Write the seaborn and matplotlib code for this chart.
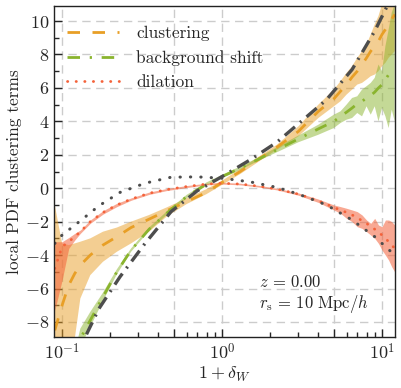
import numpy as np
import matplotlib
matplotlib.use("Agg")
import matplotlib.pyplot as plt
import matplotlib.ticker as mticker
import seaborn as sns

# simulation measurements (mean and band)
x_sim = [0.09, 0.1, 0.11, 0.12, 0.13, 0.15, 0.18, 0.22, 0.27, 0.35, 0.45, 0.6, 0.8,
         1.0, 1.3, 1.7, 2.2, 3.0, 4.0, 5.0, 5.5, 6.0, 6.5, 7.0, 7.5, 8.0, 8.5, 9.0,
         9.5, 10.0, 10.5, 11.0, 11.5, 12.0]

clus_mid = [-8.5, -7.0, -5.8, -5.1, -4.6, -4.0, -3.4, -2.9, -2.35, -1.85, -1.35, -0.8, -0.25,
            0.35, 1.0, 1.75, 2.45, 3.4, 4.6, 5.35, 5.8, 6.2, 6.65, 7.0, 7.4, 7.8, 8.2, 8.5,
            8.8, 9.2, 9.5, 9.8, 10.1, 10.4]
clus_lo = [-12, -12, -11, -9.0, -6.6, -5.2, -4.4, -3.8, -3.3, -2.6, -1.7, -0.95, -0.35,
           0.2, 0.85, 1.6, 2.3, 3.1, 4.2, 4.9, 5.2, 5.6, 5.9, 6.2, 6.3, 6.5, 6.7, 6.8,
           7.0, 7.3, 7.5, 7.8, 8.0, 8.2]
clus_hi = [-1.0, -3.3, -3.4, -3.3, -3.2, -3.0, -2.6, -2.35, -2.0, -1.6, -1.15, -0.6, -0.05,
           0.45, 1.15, 1.9, 2.6, 3.7, 5.0, 5.9, 6.4, 6.9, 7.3, 7.8, 8.2, 8.6, 9.2, 9.8,
           10.3, 11.0, 11.6, 12.0, 12.5, 13.0]

bg_mid = [-15, -13.5, -12, -10.5, -9.0, -7.9, -6.5, -5.0, -3.7, -2.45, -1.5, -0.5, 0.25,
          0.7, 1.2, 1.75, 2.3, 2.95, 3.55, 4.0, 4.3, 4.55, 4.8, 5.05, 5.2, 5.4, 5.55, 5.75,
          6.0, 6.2, 6.5, 6.8, 6.9, 7.0]
bg_lo = [-17, -15, -13, -11.2, -9.5, -8.3, -6.75, -5.15, -3.8, -2.55, -1.6, -0.6, 0.15,
         0.6, 1.1, 1.65, 2.15, 2.75, 3.2, 3.6, 3.9, 4.1, 4.2, 4.5, 4.3, 4.9, 4.4, 4.9,
         4.0, 4.8, 4.3, 3.6, 4.7, 4.0]
bg_hi = [-13, -12, -11, -9.8, -8.4, -7.4, -6.25, -4.85, -3.6, -2.35, -1.4, -0.4, 0.35,
         0.8, 1.3, 1.85, 2.45, 3.15, 3.8, 4.4, 4.6, 5.0, 5.4, 5.5, 5.9, 6.1, 6.3, 6.6,
         7.4, 7.0, 8.5, 9.5, 10.5, 11.0]

dil_mid = [-4.8, -3.5, -3.2, -2.9, -2.6, -2.0, -1.45, -1.0, -0.65, -0.3, -0.08, 0.1, 0.25,
           0.3, 0.25, 0.12, -0.05, -0.35, -0.75, -1.15, -1.3, -1.45, -1.6, -1.75, -1.95, -2.1,
           -2.3, -2.45, -2.65, -2.8, -3.0, -3.2, -3.4, -3.6]
dil_lo = [-7.3, -5.5, -3.6, -3.1, -2.7, -2.1, -1.55, -1.1, -0.72, -0.37, -0.14, 0.04, 0.2,
          0.25, 0.2, 0.07, -0.1, -0.42, -0.85, -1.3, -1.5, -1.8, -2.0, -2.3, -2.4, -2.6,
          -2.8, -3.0, -3.3, -3.7, -4.0, -4.3, -4.7, -5.0]
dil_hi = [-3.2, -3.2, -2.95, -2.7, -2.5, -1.9, -1.35, -0.9, -0.58, -0.23, -0.02, 0.16, 0.3,
          0.35, 0.3, 0.17, 0.0, -0.28, -0.65, -1.0, -1.1, -1.2, -1.3, -1.4, -1.6, -1.9,
          -2.1, -1.8, -2.2, -2.3, -1.9, -1.9, -2.0, -2.2]

# theory curves (gray)
x_th = [0.09, 0.1, 0.13, 0.17, 0.23, 0.33, 0.48, 0.7, 1.0, 1.5, 2.2, 3.0, 4.5, 6.5, 9.0, 12.0]
th_dil = [-3.3, -2.8, -1.95, -1.05, -0.25, 0.3, 0.66, 0.68, 0.6, 0.38, 0.05, -0.35, -1.0,
          -1.9, -2.9, -4.0]
th_bg = [-16, -14, -9.5, -7.2, -5.3, -3.3, -1.4, -0.15, 0.7, 1.7, 2.75, 3.85, 5.3, 7.1,
         9.4, 11.8]

c_clus = '#E89F26'
c_bg = '#8AB42E'
c_dil = '#F4623A'
c_th = '#4D4D4D'

sns.set_style('ticks')
plt.rcParams['font.family'] = ['serif']
plt.rcParams['font.serif'] = ['cmr10', 'DejaVu Serif']
plt.rcParams['mathtext.fontset'] = 'cm'
plt.rcParams['axes.formatter.use_mathtext'] = True

fig = plt.figure(figsize=(4.01, 3.88), dpi=100)
ax = fig.add_axes([0.1347, 0.1314, 0.8503, 0.8531])

ax.fill_between(x_sim, clus_lo, clus_hi, color=c_clus, alpha=0.5, lw=0)
ax.fill_between(x_sim, bg_lo, bg_hi, color=c_bg, alpha=0.5, lw=0)
ax.fill_between(x_sim, dil_lo, dil_hi, color=c_dil, alpha=0.55, lw=0)

sns.lineplot(x=x_sim, y=clus_mid, ax=ax, color=c_clus, lw=2, ls=(0, (4.5, 4.5)),
             label='clustering')
sns.lineplot(x=x_sim, y=bg_mid, ax=ax, color=c_bg, lw=2, ls=(0, (4.5, 3.5, 0.8, 3.5)),
             label='background shift')
sns.lineplot(x=x_sim, y=dil_mid, ax=ax, color=c_dil, lw=2, ls=(0, (0.1, 3.0)),
             dash_capstyle='round', label='dilation')

sns.lineplot(x=x_th, y=th_dil, ax=ax, color=c_th, lw=2.2, ls=(0, (0.1, 3.3)),
             dash_capstyle='round')
sns.lineplot(x=x_th, y=th_bg, ax=ax, color=c_th, lw=2.4, ls=(0, (4, 2, 0.6, 2)))

ax.set_xscale('log')
ax.set_xlim(0.089, 12.05)
ax.set_ylim(-8.9, 10.9)

ax.xaxis.set_major_locator(mticker.FixedLocator([0.1, 0.5, 1, 5, 10]))
ax.xaxis.set_major_formatter(mticker.FixedFormatter(['$10^{-1}$', '', '$10^{0}$', '', '$10^{1}$']))
ax.xaxis.set_minor_locator(mticker.FixedLocator([0.2, 0.3, 0.4, 0.6, 0.7, 0.8, 0.9,
                                                 2, 3, 4, 6, 7, 8, 9]))
ax.xaxis.set_minor_formatter(mticker.NullFormatter())
ax.yaxis.set_major_locator(mticker.MultipleLocator(2))
ax.yaxis.set_minor_locator(mticker.MultipleLocator(1))

ax.tick_params(which='both', direction='in', labelsize=13, width=1.0)
ax.tick_params(which='major', length=6)
ax.tick_params(which='minor', length=3.5)

ax.grid(True, which='major', color='#cccccc', ls=(0, (6, 4)), lw=1.0)
ax.set_axisbelow(True)
for s in ax.spines.values():
    s.set_linewidth(1.0)
    s.set_color('#222222')

ax.set_xlabel(r'$1+\delta_W$', fontsize=13, labelpad=2)
ax.set_ylabel('local PDF clustering terms', fontsize=12.5, labelpad=2)

ax.legend(loc='upper left', bbox_to_anchor=(-0.027, 1.005), frameon=False, fontsize=12.5,
          handlelength=3.0, handletextpad=1.0, labelspacing=0.5, borderaxespad=0.85)

ax.text(0.6, 0.166, r'$z\, =\, 0.00$', transform=ax.transAxes, fontsize=12, va='center')
ax.text(0.6, 0.10, r'$r_{\rm s}\, =\, 10\ {\rm Mpc}/h$', transform=ax.transAxes,
        fontsize=12, va='center')

fig.savefig('out.png', dpi=100)
